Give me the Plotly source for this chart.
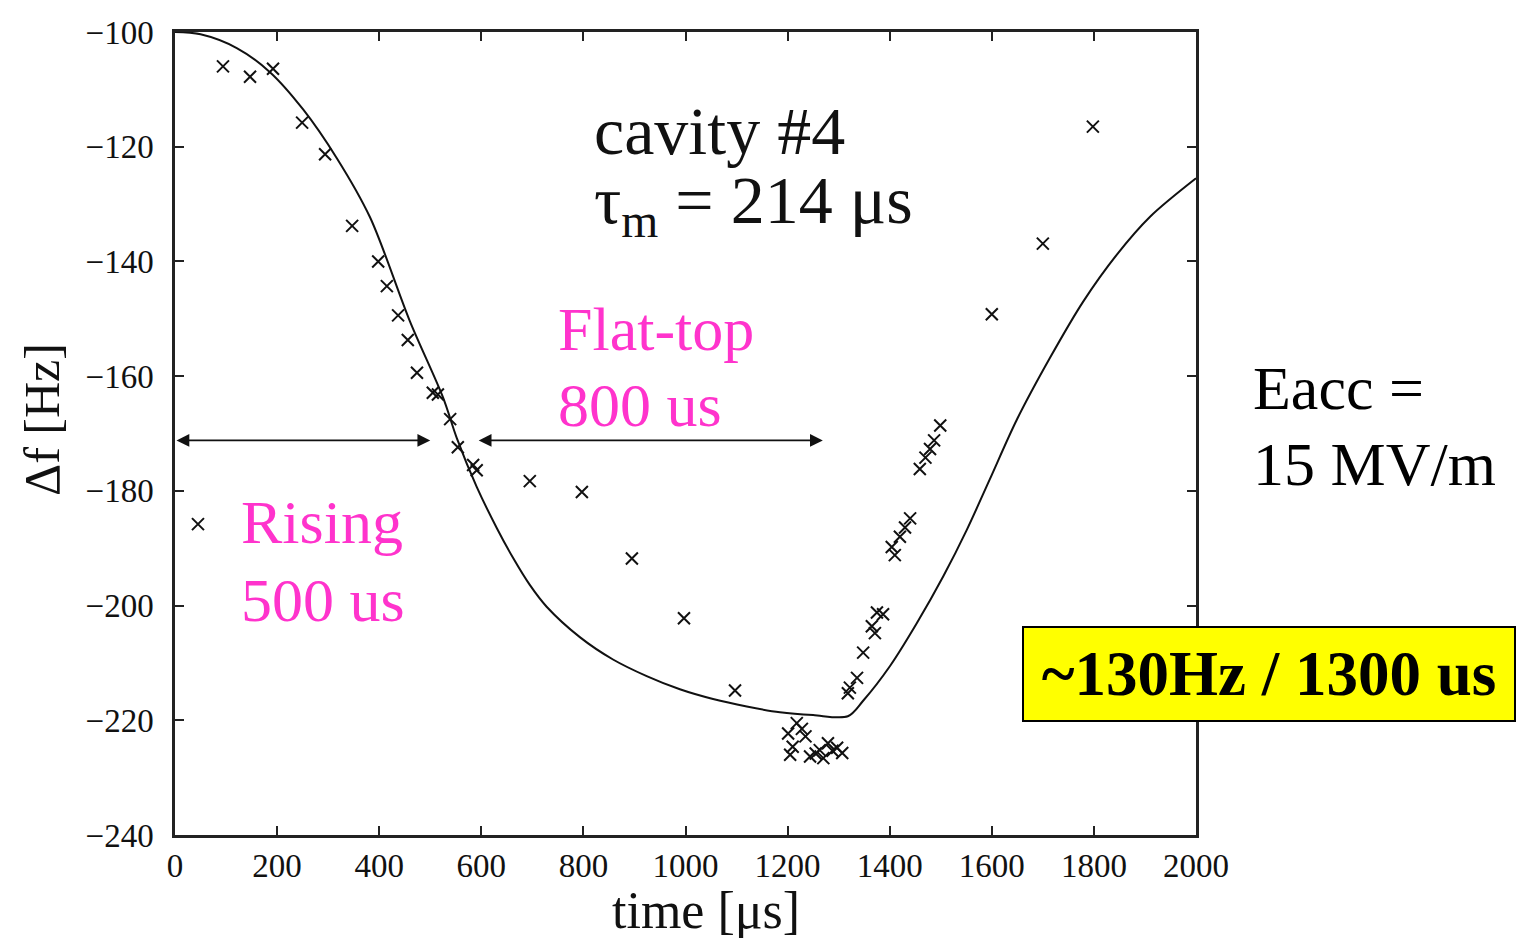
import plotly.graph_objects as go

# Model curve (solid line)
curve_x = [0, 50, 121, 186, 251, 317, 382, 460, 525, 552, 591, 631, 663, 695, 728,
           793, 858, 924, 989, 1054, 1120, 1185, 1250, 1318, 1348, 1401, 1453, 1505,
           1551, 1596, 1649, 1714, 1779, 1845, 1910, 2000]
curve_y = [-100, -100.4, -102.8, -107.0, -113.5, -122.0, -132.3, -150.4, -163.7,
           -170.8, -179.3, -186.6, -191.8, -196.4, -200.2, -205.5, -209.4, -212.3, -214.6,
           -216.3, -217.6, -218.6, -219.1, -219.3, -216.6, -210.5, -203.1, -194.9,
           -186.8, -178.0, -167.6, -156.8, -147.0, -138.8, -132.2, -125.5]

# Measured points (x markers)
meas_x = [45, 94, 147, 192, 249, 294, 347, 398, 415, 437, 456, 474, 505, 515, 539, 554, 584,
          591, 695, 797, 895, 997, 1097,
          1201, 1210, 1218, 1228, 1205, 1235, 1244, 1255, 1263, 1270, 1279, 1288, 1297, 1307,
          1318, 1322, 1336, 1348, 1365, 1371, 1375, 1387, 1404, 1410, 1420, 1430, 1440,
          1459, 1470, 1479, 1487, 1499,
          1600, 1700, 1798]
meas_y = [-185.8, -106, -107.8, -106.4, -115.8, -121.3, -133.8, -140, -144.3, -149.4, -153.7,
          -159.4, -162.9, -163.2, -167.5, -172.4, -175.5, -176.4, -178.3, -180.2, -191.8,
          -202.2, -214.8,
          -222.3, -224.6, -220.5, -221.5, -226, -222.8, -226.3, -225.8, -225.2, -226.6, -224,
          -225.3, -224.8, -225.7,
          -215.3, -214.3, -212.6, -208.2, -203.6, -204.8, -201.2, -201.5, -189.8, -191.2,
          -188, -186.4, -184.8, -176.2, -174.2, -172.7, -171.2, -168.6,
          -149.2, -136.9, -116.5]

x_ticks = [0, 200, 400, 600, 800, 1000, 1200, 1400, 1600, 1800, 2000]
y_ticks = [-240, -220, -200, -180, -160, -140, -120, -100]

SERIF = "Liberation Serif, Times New Roman, serif"
MAGENTA = "#FF33CC"

fig = go.Figure()
fig.add_trace(go.Scatter(x=curve_x, y=curve_y, mode="lines",
                         line=dict(color="#111", width=2, shape="spline", smoothing=0.9),
                         hoverinfo="skip", showlegend=False))
fig.add_trace(go.Scatter(x=meas_x, y=meas_y, mode="markers",
                         marker=dict(symbol="x-thin-open", size=12, color="#111",
                                     line=dict(color="#111", width=2)),
                         showlegend=False))

annotations = []
# double-headed arrows
for x0, x1 in [(0, 500), (592, 1269)]:
    annotations.append(dict(x=x1, y=-171.2, ax=x0, ay=-171.2, xref="x", yref="y",
                            axref="x", ayref="y", text="", showarrow=True,
                            arrowhead=2, startarrowhead=2, arrowside="end+start",
                            arrowsize=1.6, startarrowsize=1.6, arrowwidth=1.6,
                            arrowcolor="#111"))

def txt(text, x, y, size, color="black", xref="x", yref="y", bold=False, **kw):
    if bold:
        text = "<b>" + text + "</b>"
    d = dict(text=text, x=x, y=y, xref=xref, yref=yref, xanchor="left", yanchor="middle",
             showarrow=False, font=dict(family=SERIF, size=size, color=color))
    d.update(kw)
    annotations.append(d)

# cavity text
txt("cavity #4", 817, -117.2, 68, color="#111")
txt("τ<sub>m</sub> = 214 μs", 817, -130.0, 68, color="#111")
# flat-top
txt("Flat-top", 747, -151.8, 62, color=MAGENTA)
txt("800 us", 747, -165.0, 62, color=MAGENTA)
# rising
txt("Rising", 125, -185.5, 62, color=MAGENTA)
txt("500 us", 125, -199.0, 62, color=MAGENTA)
# Eacc (outside plot, paper coords)
def px_x(p):
    return (p - 175) / 1021.0
def px_y(p):
    return (835 - p) / 803.0
txt("Eacc =", px_x(1251), px_y(388), 62, xref="paper", yref="paper")
txt("15 MV/m", px_x(1251), px_y(464), 62, xref="paper", yref="paper")
# yellow box
annotations.append(dict(text="<b>~130Hz / 1300 us</b>", x=px_x(1268.5), y=px_y(674),
                        xref="paper", yref="paper", xanchor="center", yanchor="middle",
                        showarrow=False, font=dict(family=SERIF, size=63, color="black"),
                        bgcolor="#FFFF00", bordercolor="black", borderwidth=2,
                        width=490, height=92, borderpad=0))
# axis titles
annotations.append(dict(text="time [μs]", x=px_x(706), y=px_y(910), xref="paper",
                        yref="paper", xanchor="center", yanchor="middle", showarrow=False,
                        font=dict(family=SERIF, size=52, color="#111")))
annotations.append(dict(text="Δf [Hz]", x=px_x(42), y=px_y(420), xref="paper",
                        yref="paper", xanchor="center", yanchor="middle", showarrow=False,
                        textangle=-90, font=dict(family=SERIF, size=50, color="#111")))

axis_common = dict(showgrid=False, zeroline=False, showline=True, linecolor="#222",
                   linewidth=2.5, mirror="ticks", ticks="inside", ticklen=9, tickwidth=2,
                   tickcolor="#222",
                   tickfont=dict(family=SERIF, size=33, color="#111"))

fig.update_layout(
    width=1517, height=938,
    margin=dict(l=175, r=321, t=32, b=103),
    plot_bgcolor="white", paper_bgcolor="white",
    xaxis=dict(range=[0, 2000], tickvals=x_ticks, ticklabelstandoff=0, **axis_common),
    yaxis=dict(range=[-240, -100], tickvals=y_ticks, ticklabelstandoff=12, **axis_common),
    annotations=annotations,
    showlegend=False,
)

fig.write_html("out.html")
